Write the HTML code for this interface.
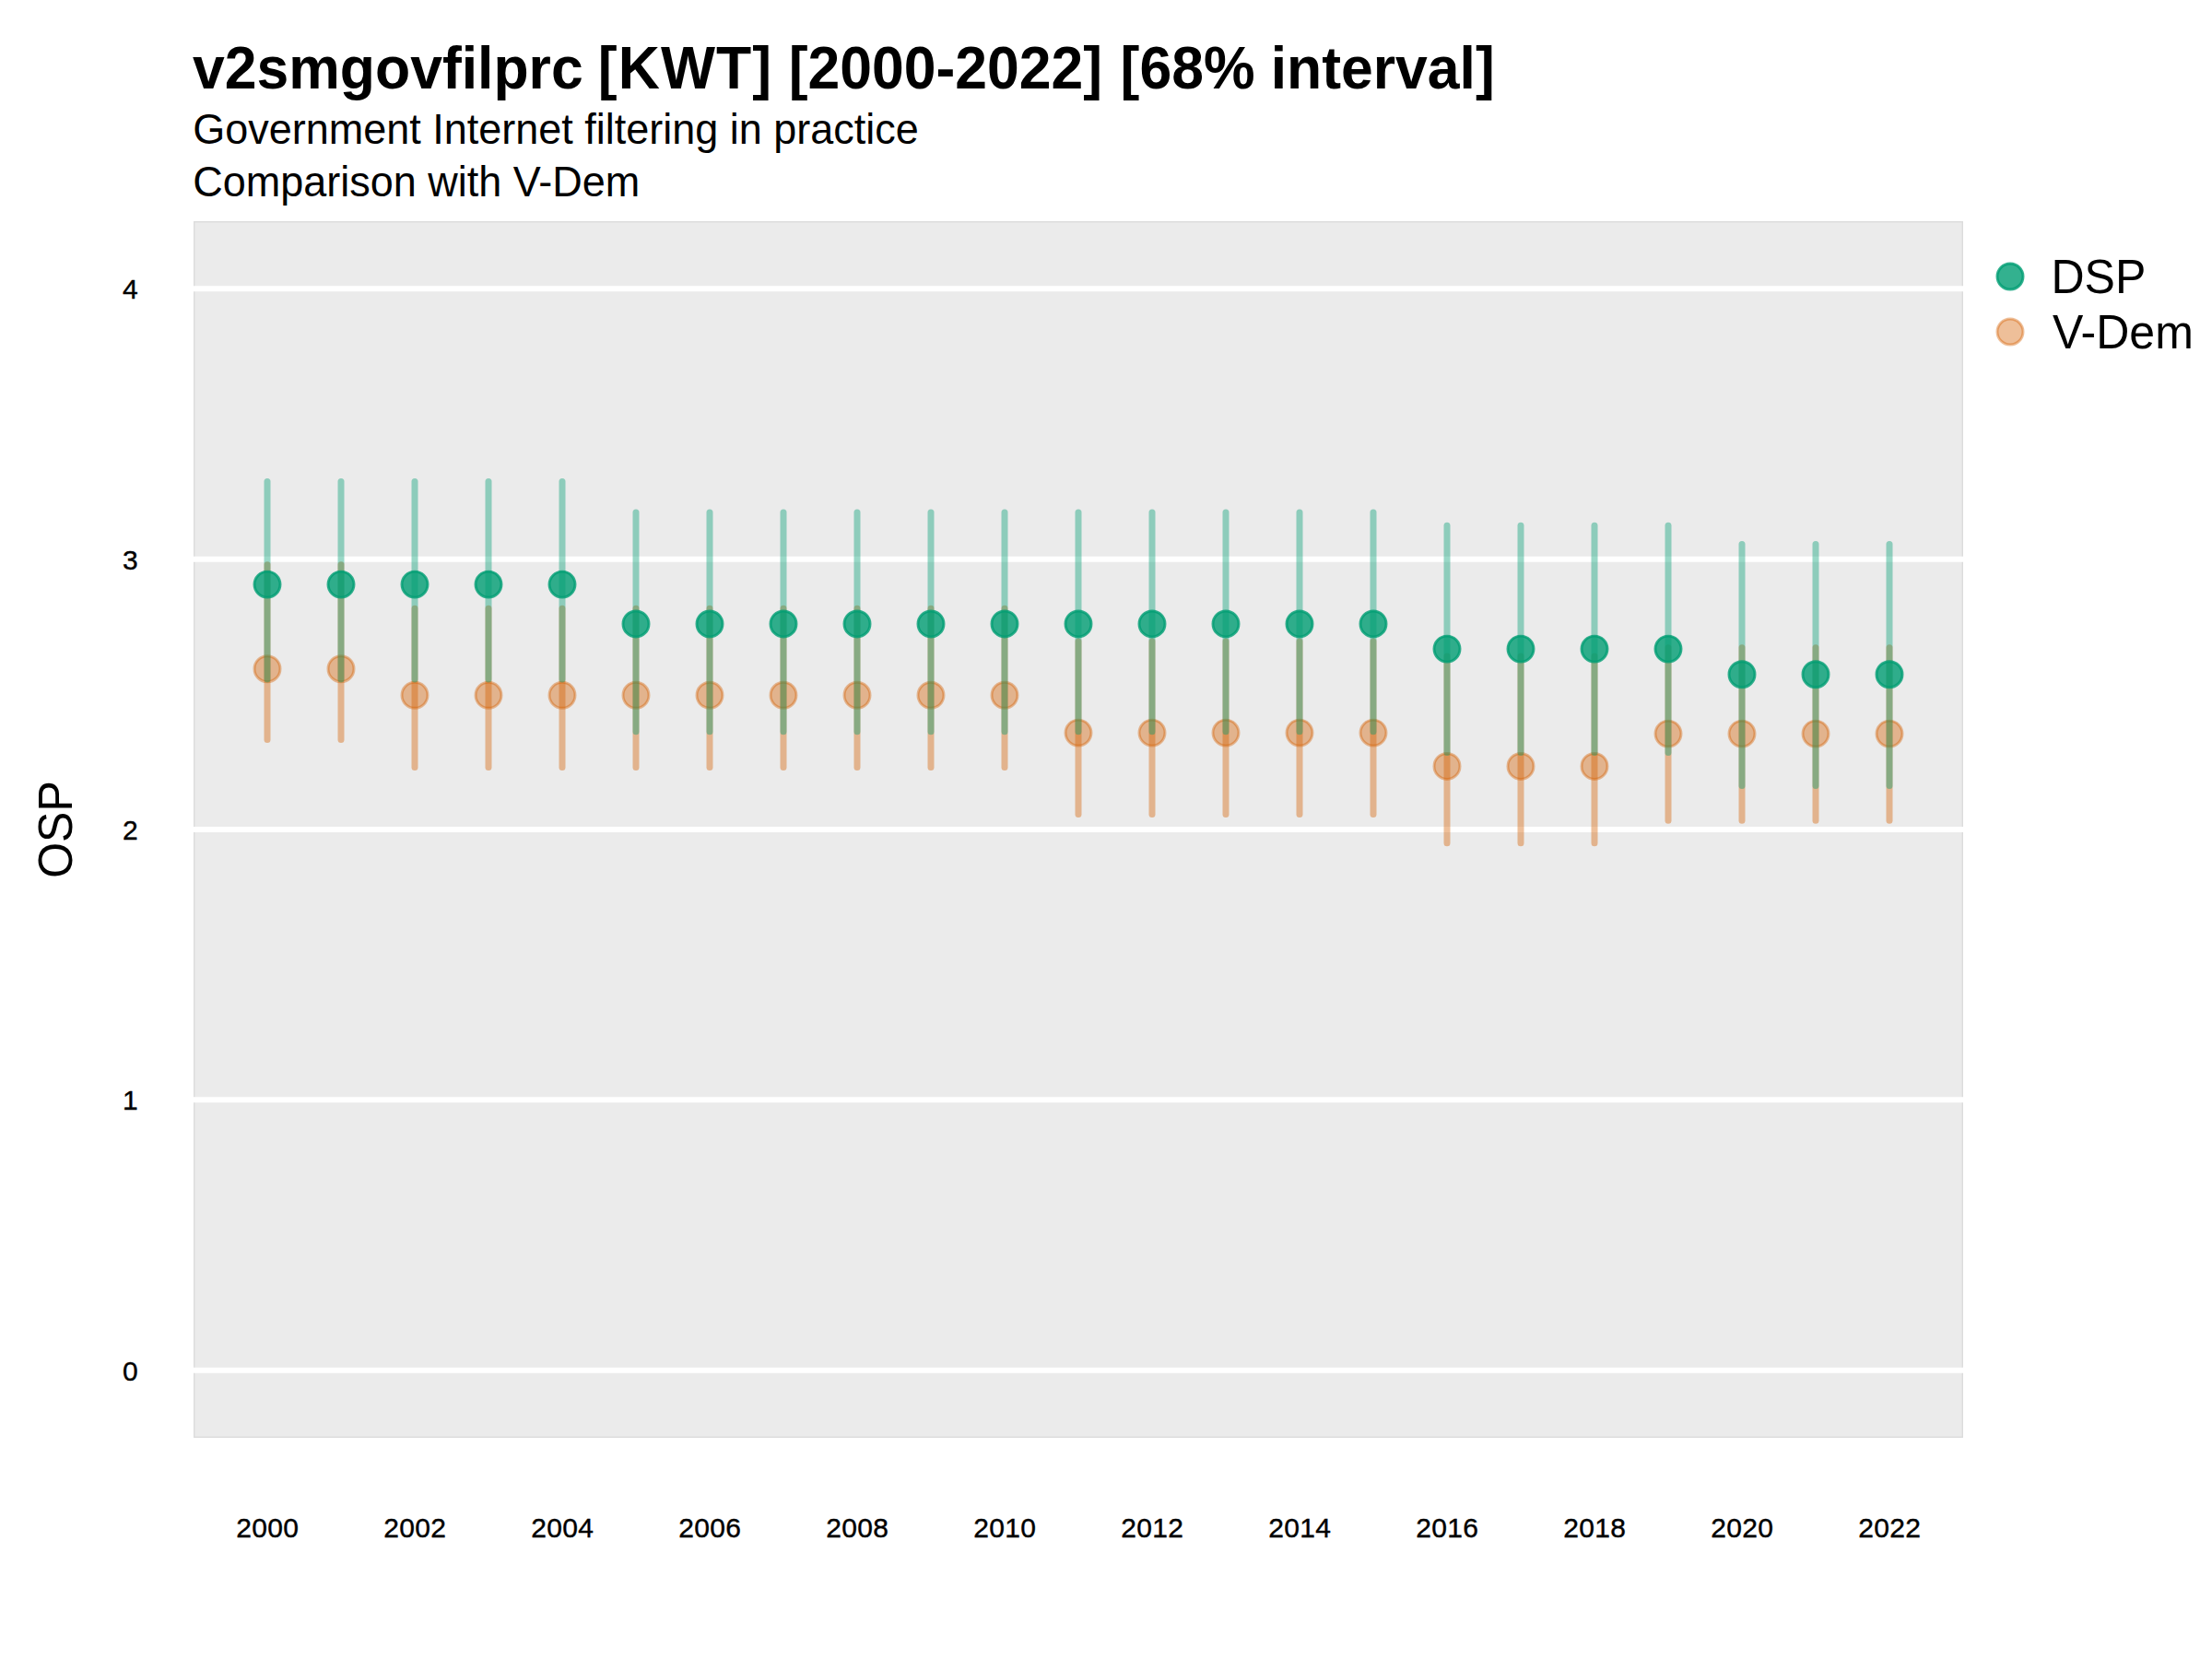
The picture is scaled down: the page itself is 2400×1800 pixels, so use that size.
<!DOCTYPE html>
<html lang="en">
<head>
<meta charset="utf-8">
<title>v2smgovfilprc [KWT] [2000-2022] [68% interval]</title>
<style>
html,body{margin:0;padding:0;background:#fff;}
body{width:2400px;height:1800px;overflow:hidden;}
svg{display:block;}
text{font-family:"Liberation Sans",sans-serif;fill:#000;}
.t{font-weight:bold;font-size:62.5px;}
.s{font-size:45px;}
.a{font-size:30px;letter-spacing:0.3px;stroke:#000;stroke-width:0.4px;}
.l{font-size:50px;}
</style>
</head>
<body>
<svg width="2400" height="1800" viewBox="0 0 2400 1800">
<rect x="0" y="0" width="2400" height="1800" fill="#ffffff"/>
<text class="t" transform="translate(0 96) scale(1 1.04)"><tspan x="209">v2smgovfilprc</tspan> <tspan x="648.8" letter-spacing="1.1">[KWT]</tspan> <tspan x="855.7">[2000-2022]</tspan> <tspan x="1215.6">[68%</tspan> <tspan x="1378.7">interval]</tspan></text>
<text class="s" transform="translate(209.2 156) scale(1 1.04)">Government Internet filtering in practice</text>
<text class="s" transform="translate(209.2 212.9) scale(1 1.04)">Comparison with V-Dem</text>
<rect x="210" y="240" width="1920" height="1320" fill="#EBEBEB"/>
<rect x="210.7" y="240.7" width="1918.6" height="1318.6" fill="none" stroke="#DCDCDC" stroke-width="1.4"/>
<g stroke="#ffffff" stroke-width="6">
<line x1="210" x2="2130" y1="1486.67" y2="1486.67"/>
<line x1="210" x2="2130" y1="1193.33" y2="1193.33"/>
<line x1="210" x2="2130" y1="900.00" y2="900.00"/>
<line x1="210" x2="2130" y1="606.67" y2="606.67"/>
<line x1="210" x2="2130" y1="313.33" y2="313.33"/>
</g>
<g stroke="#D55E00" stroke-opacity="0.4" stroke-width="7" stroke-linecap="round" fill="none">
<line x1="290" x2="290" y1="612.8" y2="802.5"/>
<line x1="370" x2="370" y1="612.8" y2="802.5"/>
<line x1="450" x2="450" y1="660.2" y2="832.4"/>
<line x1="530" x2="530" y1="660.2" y2="832.4"/>
<line x1="610" x2="610" y1="660.2" y2="832.4"/>
<line x1="690" x2="690" y1="660.2" y2="832.4"/>
<line x1="770" x2="770" y1="660.2" y2="832.4"/>
<line x1="850" x2="850" y1="660.2" y2="832.4"/>
<line x1="930" x2="930" y1="660.2" y2="832.4"/>
<line x1="1010" x2="1010" y1="660.2" y2="832.4"/>
<line x1="1090" x2="1090" y1="660.2" y2="832.4"/>
<line x1="1170" x2="1170" y1="696.0" y2="883.6"/>
<line x1="1250" x2="1250" y1="696.0" y2="883.6"/>
<line x1="1330" x2="1330" y1="696.0" y2="883.6"/>
<line x1="1410" x2="1410" y1="696.0" y2="883.6"/>
<line x1="1490" x2="1490" y1="696.0" y2="883.6"/>
<line x1="1570" x2="1570" y1="712.1" y2="914.7"/>
<line x1="1650" x2="1650" y1="712.1" y2="914.7"/>
<line x1="1730" x2="1730" y1="712.1" y2="914.7"/>
<line x1="1810" x2="1810" y1="702.7" y2="890.2"/>
<line x1="1890" x2="1890" y1="702.7" y2="890.2"/>
<line x1="1970" x2="1970" y1="702.7" y2="890.2"/>
<line x1="2050" x2="2050" y1="702.7" y2="890.2"/>
</g>
<g fill="#D55E00" fill-opacity="0.4" stroke="#D55E00" stroke-opacity="0.4" stroke-width="2.95">
<circle cx="290" cy="725.7" r="14"/>
<circle cx="370" cy="725.7" r="14"/>
<circle cx="450" cy="754.3" r="14"/>
<circle cx="530" cy="754.3" r="14"/>
<circle cx="610" cy="754.3" r="14"/>
<circle cx="690" cy="754.3" r="14"/>
<circle cx="770" cy="754.3" r="14"/>
<circle cx="850" cy="754.3" r="14"/>
<circle cx="930" cy="754.3" r="14"/>
<circle cx="1010" cy="754.3" r="14"/>
<circle cx="1090" cy="754.3" r="14"/>
<circle cx="1170" cy="795.1" r="14"/>
<circle cx="1250" cy="795.1" r="14"/>
<circle cx="1330" cy="795.1" r="14"/>
<circle cx="1410" cy="795.1" r="14"/>
<circle cx="1490" cy="795.1" r="14"/>
<circle cx="1570" cy="831.4" r="14"/>
<circle cx="1650" cy="831.4" r="14"/>
<circle cx="1730" cy="831.4" r="14"/>
<circle cx="1810" cy="796.1" r="14"/>
<circle cx="1890" cy="796.1" r="14"/>
<circle cx="1970" cy="796.1" r="14"/>
<circle cx="2050" cy="796.1" r="14"/>
</g>
<g stroke="#009E73" stroke-opacity="0.4" stroke-width="7" stroke-linecap="round" fill="none">
<line x1="290" x2="290" y1="522.6" y2="737.0"/>
<line x1="370" x2="370" y1="522.6" y2="737.0"/>
<line x1="450" x2="450" y1="522.6" y2="737.0"/>
<line x1="530" x2="530" y1="522.6" y2="737.0"/>
<line x1="610" x2="610" y1="522.6" y2="737.0"/>
<line x1="690" x2="690" y1="556.0" y2="793.8"/>
<line x1="770" x2="770" y1="556.0" y2="793.8"/>
<line x1="850" x2="850" y1="556.0" y2="793.8"/>
<line x1="930" x2="930" y1="556.0" y2="793.8"/>
<line x1="1010" x2="1010" y1="556.0" y2="793.8"/>
<line x1="1090" x2="1090" y1="556.0" y2="793.8"/>
<line x1="1170" x2="1170" y1="556.0" y2="793.8"/>
<line x1="1250" x2="1250" y1="556.0" y2="793.8"/>
<line x1="1330" x2="1330" y1="556.0" y2="793.8"/>
<line x1="1410" x2="1410" y1="556.0" y2="793.8"/>
<line x1="1490" x2="1490" y1="556.0" y2="793.8"/>
<line x1="1570" x2="1570" y1="570.2" y2="816.5"/>
<line x1="1650" x2="1650" y1="570.2" y2="816.5"/>
<line x1="1730" x2="1730" y1="570.2" y2="816.5"/>
<line x1="1810" x2="1810" y1="570.2" y2="816.5"/>
<line x1="1890" x2="1890" y1="590.5" y2="852.4"/>
<line x1="1970" x2="1970" y1="590.5" y2="852.4"/>
<line x1="2050" x2="2050" y1="590.5" y2="852.4"/>
</g>
<g fill="#009E73" fill-opacity="0.8" stroke="#009E73" stroke-opacity="0.8" stroke-width="2.95">
<circle cx="290" cy="634.1" r="14"/>
<circle cx="370" cy="634.1" r="14"/>
<circle cx="450" cy="634.1" r="14"/>
<circle cx="530" cy="634.1" r="14"/>
<circle cx="610" cy="634.1" r="14"/>
<circle cx="690" cy="676.9" r="14"/>
<circle cx="770" cy="676.9" r="14"/>
<circle cx="850" cy="676.9" r="14"/>
<circle cx="930" cy="676.9" r="14"/>
<circle cx="1010" cy="676.9" r="14"/>
<circle cx="1090" cy="676.9" r="14"/>
<circle cx="1170" cy="676.9" r="14"/>
<circle cx="1250" cy="676.9" r="14"/>
<circle cx="1330" cy="676.9" r="14"/>
<circle cx="1410" cy="676.9" r="14"/>
<circle cx="1490" cy="676.9" r="14"/>
<circle cx="1570" cy="704.1" r="14"/>
<circle cx="1650" cy="704.1" r="14"/>
<circle cx="1730" cy="704.1" r="14"/>
<circle cx="1810" cy="704.1" r="14"/>
<circle cx="1890" cy="731.7" r="14"/>
<circle cx="1970" cy="731.7" r="14"/>
<circle cx="2050" cy="731.7" r="14"/>
</g>
<g class="a" text-anchor="end">
<text transform="translate(150 1497.7) scale(1 1)">0</text>
<text transform="translate(150 1204.3) scale(1 1)">1</text>
<text transform="translate(150 910.9) scale(1 1)">2</text>
<text transform="translate(150 617.9) scale(1 1)">3</text>
<text transform="translate(150 323.9) scale(1 1)">4</text>
</g>
<g class="a" text-anchor="middle">
<text transform="translate(290.15 1667.7) scale(1 1)">2000</text>
<text transform="translate(450.15 1667.7) scale(1 1)">2002</text>
<text transform="translate(610.15 1667.7) scale(1 1)">2004</text>
<text transform="translate(770.15 1667.7) scale(1 1)">2006</text>
<text transform="translate(930.15 1667.7) scale(1 1)">2008</text>
<text transform="translate(1090.15 1667.7) scale(1 1)">2010</text>
<text transform="translate(1250.15 1667.7) scale(1 1)">2012</text>
<text transform="translate(1410.15 1667.7) scale(1 1)">2014</text>
<text transform="translate(1570.15 1667.7) scale(1 1)">2016</text>
<text transform="translate(1730.15 1667.7) scale(1 1)">2018</text>
<text transform="translate(1890.15 1667.7) scale(1 1)">2020</text>
<text transform="translate(2050.15 1667.7) scale(1 1)">2022</text>
</g>
<text class="l" text-anchor="middle" transform="translate(78 900) rotate(-90) scale(1 1.03)">OSP</text>
<circle cx="2181" cy="300" r="14" fill="#009E73" fill-opacity="0.8" stroke="#009E73" stroke-opacity="0.8" stroke-width="2.95"/>
<circle cx="2181" cy="360" r="14" fill="#D55E00" fill-opacity="0.4" stroke="#D55E00" stroke-opacity="0.4" stroke-width="2.95"/>
<text class="l" transform="translate(2225.5 318) scale(1 1.03)">DSP</text>
<text class="l" transform="translate(2227 378) scale(1 1.03)">V-Dem</text>
</svg>
</body>
</html>
